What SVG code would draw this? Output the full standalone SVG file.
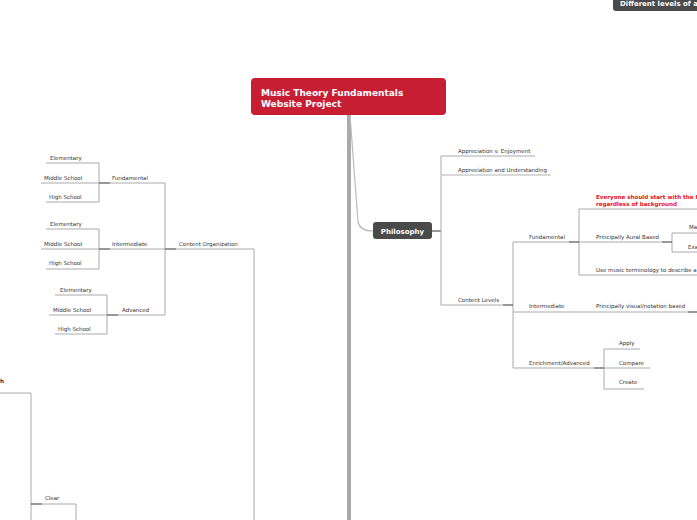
<svg xmlns="http://www.w3.org/2000/svg" width="697" height="520" viewBox="0 0 697 520">
<style>
.t{font-family:"DejaVu Sans",Verdana,sans-serif;font-size:5.5px;fill:#333}
.tb{font-family:"DejaVu Sans",Verdana,sans-serif;font-weight:bold;fill:#fff}
.red{font-family:"DejaVu Sans",Verdana,sans-serif;font-size:5.6px;font-weight:bold;fill:#e8141e}
.u{stroke:#aaa;stroke-width:1;fill:none}
.v{stroke:#aaa;stroke-width:1;fill:none}
.dk{stroke:#555;stroke-width:1.2;fill:none}
</style>
<rect width="697" height="520" fill="#fff"/>

<g id="connectors">
  <path d="M349,115 V520" stroke="#aaa" stroke-width="4" fill="none"/>
  <path d="M350,115 L358,222 Q360,231 373,231" stroke="#bbb" stroke-width="1.2" fill="none"/>
  <path class="dk" d="M431,231 H441"/>
  <path class="v" d="M441,156 V305"/>
  <path class="v" d="M513,242 V368"/>
  <path class="v" d="M579,209 V275"/>
  <path class="v" d="M672,233 V252"/>
  <path class="v" d="M604,349 V389"/>
  <path class="dk" d="M503,305 H513"/>
  <path class="dk" d="M569,242 H579"/>
  <path class="dk" d="M662,242 H672"/>
  <path class="dk" d="M594,368 H604"/>
  <path class="dk" d="M688,312 H697"/>
  <path class="v" d="M99,163 V202"/>
  <path class="v" d="M99,229 V269"/>
  <path class="v" d="M107,295 V334"/>
  <path class="v" d="M165,183 V315"/>
  <path class="v" d="M254,249 V520" stroke="#bbb" stroke-width="1.5"/>
  <path class="dk" d="M99,183 H110"/>
  <path class="dk" d="M99,249 H110"/>
  <path class="dk" d="M107,315 H118"/>
  <path class="dk" d="M165,249 H176"/>
  <path class="v" d="M31,393 V520"/>
  <path class="v" d="M76,504 V520"/>
  <path class="dk" d="M31,504 H42"/>
</g>

<g id="title">
  <rect x="251" y="78" width="195" height="37" rx="4" fill="#c81e33"/>
  <text class="tb" x="261" y="96" font-size="9">Music Theory Fundamentals</text>
  <text class="tb" x="261" y="107" font-size="9">Website Project</text>
</g>

<g id="top-right">
  <rect x="613" y="-10" width="100" height="21" rx="3" fill="#4a4a4a"/>
  <text class="tb" x="620" y="6" font-size="7">Different levels of a</text>
</g>

<g id="philosophy">
  <rect x="373" y="222" width="59" height="17" rx="3" fill="#4a4a4a"/>
  <text class="tb" x="402.5" y="233.5" font-size="7" text-anchor="middle">Philosophy</text>
</g>

<g id="appreciation-enjoyment"><text class="t" x="458" y="153">Appreciation v. Enjoyment</text><path class="u" d="M441,156 H535"/></g>
<g id="appreciation-understanding"><text class="t" x="458" y="172">Appreciation and Understanding</text><path d="M441,175 H551" stroke="#ccc" stroke-width="1.5"/></g>
<g id="content-levels"><text class="t" x="458" y="302">Content Levels</text><path class="u" d="M441,305 H503"/></g>
<g id="cl-fundamental"><text class="t" x="529" y="239">Fundamental</text><path class="u" d="M513,242 H569"/></g>
<g id="everyone"><text class="red" x="596" y="199">Everyone should start with the F</text><text class="red" x="596" y="206">regardless of background</text><path class="u" d="M579,209 H697"/></g>
<g id="aural"><text class="t" x="596" y="239">Principally Aural Based</text><path class="u" d="M579,242 H662"/></g>
<g id="ma"><text class="t" x="689" y="229">Ma</text><path class="u" d="M672,233 H697"/></g>
<g id="exa"><text class="t" x="688" y="249">Exa</text><path class="u" d="M672,252 H697"/></g>
<g id="terminology"><text class="t" x="596" y="272">Use music terminology to describe a</text><path class="u" d="M579,275 H697"/></g>
<g id="cl-intermediate"><text class="t" x="529" y="308">Intermediate</text><path class="u" d="M513,312 H595"/></g>
<g id="visual"><text class="t" x="596" y="308">Principally visual/notation based</text><path class="u" d="M595,312 H688"/></g>
<g id="cl-enrichment"><text class="t" x="529" y="365">Enrichment/Advanced</text><path class="u" d="M513,368 H594"/></g>
<g id="apply"><text class="t" x="619" y="345">Apply</text><path class="u" d="M604,349 H640"/></g>
<g id="compare"><text class="t" x="619" y="365">Compare</text><path class="u" d="M604,368 H650"/></g>
<g id="create"><text class="t" x="619" y="384">Create</text><path class="u" d="M604,389 H644"/></g>

<g id="f-elementary"><text class="t" x="50" y="160">Elementary</text><path class="u" d="M46,163 H99"/></g>
<g id="f-middle"><text class="t" x="44" y="180">Middle School</text><path class="u" d="M41,183 H99"/></g>
<g id="f-high"><text class="t" x="49" y="199">High School</text><path class="u" d="M46,202 H99"/></g>
<g id="co-fundamental"><text class="t" x="112" y="180">Fundamental</text><path class="u" d="M110,183 H165"/></g>
<g id="i-elementary"><text class="t" x="50" y="226">Elementary</text><path class="u" d="M46,229 H99"/></g>
<g id="i-middle"><text class="t" x="44" y="246">Middle School</text><path class="u" d="M41,249 H99"/></g>
<g id="i-high"><text class="t" x="49" y="265">High School</text><path class="u" d="M46,269 H99"/></g>
<g id="co-intermediate"><text class="t" x="112" y="246">Intermediate</text><path class="u" d="M110,249 H165"/></g>
<g id="a-elementary"><text class="t" x="60" y="292">Elementary</text><path class="u" d="M55,295 H107"/></g>
<g id="a-middle"><text class="t" x="53" y="312">Middle School</text><path class="u" d="M49,315 H107"/></g>
<g id="a-high"><text class="t" x="58" y="331">High School</text><path class="u" d="M55,334 H107"/></g>
<g id="co-advanced"><text class="t" x="122" y="312">Advanced</text><path class="u" d="M118,315 H165"/></g>
<g id="content-organization"><text class="t" x="179" y="246">Content Organization</text><path class="u" d="M176,249 H254"/></g>
<g id="h-node"><text class="t" x="0" y="383" font-weight="bold">h</text><path class="u" d="M0,393 H31"/></g>
<g id="clear"><text class="t" x="45" y="500">Clear</text><path class="u" d="M42,504 H76"/></g>
</svg>
